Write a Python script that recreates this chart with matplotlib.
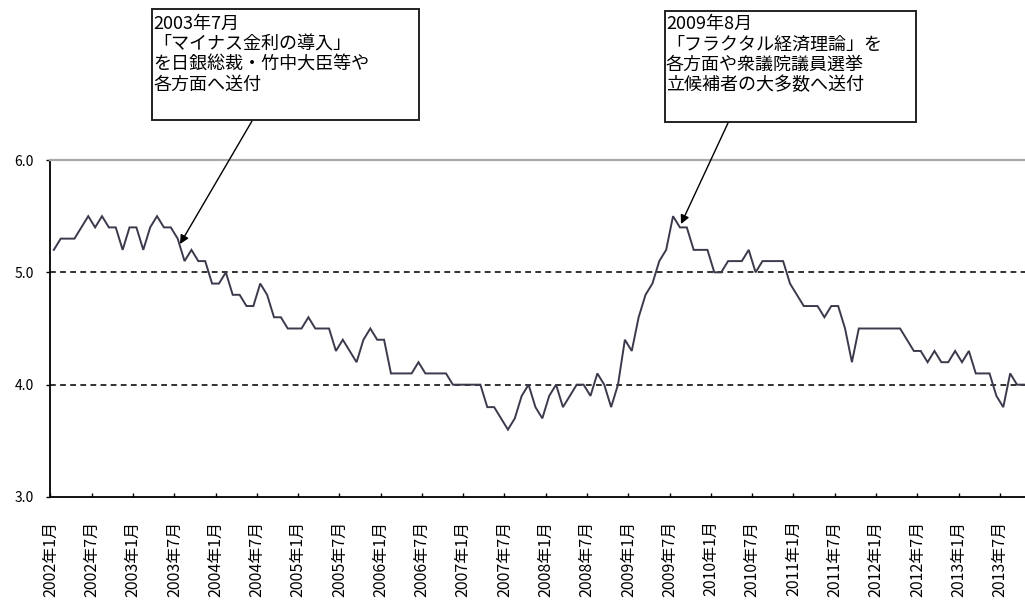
import matplotlib
matplotlib.use("Agg")
import matplotlib.pyplot as plt
from matplotlib.patches import Rectangle

plt.rcParams['font.family'] = ['Noto Sans CJK JP', 'DejaVu Sans']

# ---- data: monthly values, 2002年1月 .. 2013年10月 ----
rate = [
    5.2, 5.3, 5.3, 5.3, 5.4, 5.5, 5.4, 5.5, 5.4, 5.4, 5.2, 5.4,   # 2002
    5.4, 5.2, 5.4, 5.5, 5.4, 5.4, 5.3, 5.1, 5.2, 5.1, 5.1, 4.9,   # 2003
    4.9, 5.0, 4.8, 4.8, 4.7, 4.7, 4.9, 4.8, 4.6, 4.6, 4.5, 4.5,   # 2004
    4.5, 4.6, 4.5, 4.5, 4.5, 4.3, 4.4, 4.3, 4.2, 4.4, 4.5, 4.4,   # 2005
    4.4, 4.1, 4.1, 4.1, 4.1, 4.2, 4.1, 4.1, 4.1, 4.1, 4.0, 4.0,   # 2006
    4.0, 4.0, 4.0, 3.8, 3.8, 3.7, 3.6, 3.7, 3.9, 4.0, 3.8, 3.7,   # 2007
    3.9, 4.0, 3.8, 3.9, 4.0, 4.0, 3.9, 4.1, 4.0, 3.8, 4.0, 4.4,   # 2008
    4.3, 4.6, 4.8, 4.9, 5.1, 5.2, 5.5, 5.4, 5.4, 5.2, 5.2, 5.2,   # 2009
    5.0, 5.0, 5.1, 5.1, 5.1, 5.2, 5.0, 5.1, 5.1, 5.1, 5.1, 4.9,   # 2010
    4.8, 4.7, 4.7, 4.7, 4.6, 4.7, 4.7, 4.5, 4.2, 4.5, 4.5, 4.5,   # 2011
    4.5, 4.5, 4.5, 4.5, 4.4, 4.3, 4.3, 4.2, 4.3, 4.2, 4.2, 4.3,   # 2012
    4.2, 4.3, 4.1, 4.1, 4.1, 3.9, 3.8, 4.1, 4.0, 4.0,             # 2013
]
month_labels = [f"{2002 + i // 12}年{i % 12 + 1}月" for i in range(len(rate))]
tick_labels = month_labels[::6]
y_ticks = [3.0, 4.0, 5.0, 6.0]
y_tick_labels = ["3.0", "4.0", "5.0", "6.0"]
dashed_levels = [4.0, 5.0]

note1_lines = ["2003年7月", "「マイナス金利の導入」", "を日銀総裁・竹中大臣等や", "各方面へ送付"]
note2_lines = ["2009年8月", "「フラクタル経済理論」を", "各方面や衆議院議員選挙", "立候補者の大多数へ送付"]

# ---- figure ----
W, H = 1025, 608
fig = plt.figure(figsize=(W / 100, H / 100), dpi=100)
fig.patch.set_facecolor("white")

ax_left, ax_bottom, ax_top = 50.4, 497, 160
ax = fig.add_axes([ax_left / W, (H - ax_bottom) / H, 1 - ax_left / W, (ax_bottom - ax_top) / H])

x = [i + 0.5 for i in range(len(rate))]
ax.plot(x, rate, color="#3a3a4c", lw=1.4, solid_joinstyle="miter")

for lv in dashed_levels:
    ax.axhline(lv, color="#222222", lw=1.3, ls=(0, (3.2, 2.4)), zorder=1)

ax.set_ylim(3.0, 6.0)
ax.set_xlim(0, (W - ax_left) / 6.88)

ax.set_yticks(y_ticks)
ax.set_yticklabels(y_tick_labels, fontsize=10)
ax.set_xticks(list(range(0, len(rate), 6)))
ax.set_xticklabels(tick_labels, rotation=90, fontsize=11.5, va="top", ha="center")

ax.tick_params(axis="x", direction="in", length=3, width=1, pad=17, color="black")
ax.tick_params(axis="y", direction="out", length=3, width=1, pad=9, color="black")

ax.spines["left"].set_color("black")
ax.spines["left"].set_linewidth(1.3)
ax.spines["bottom"].set_color("black")
ax.spines["bottom"].set_linewidth(1.3)
ax.spines["top"].set_color("#a8a8a8")
ax.spines["top"].set_linewidth(1.6)
ax.spines["right"].set_visible(False)


def fx(px):
    return px / W


def fy(py):
    return 1 - py / H


# annotation boxes
boxes = [
    ((152, 9, 419, 120), 153, note1_lines),
    ((665, 11, 916, 122), 666, note2_lines),
]
for (x0, y0, x1, y1), tx, lines in boxes:
    fig.add_artist(Rectangle((fx(x0), fy(y1)), fx(x1) - fx(x0), fy(y0) - fy(y1),
                             transform=fig.transFigure, facecolor="white",
                             edgecolor="#222222", lw=1.4))
    fig.text(fx(tx), fy(15), "\n".join(lines), fontsize=13, ha="left", va="top",
             linespacing=1.17, color="black")

# arrows
arrows = [((252, 121), (180, 244)), ((728, 123), (681, 224))]
for (tx, ty), (hx, hy) in arrows:
    ax.annotate("", xy=(hx, H - hy), xycoords="figure pixels",
                xytext=(tx, H - ty), textcoords="figure pixels",
                arrowprops=dict(arrowstyle="-|>", color="black", lw=1.0,
                                mutation_scale=13, shrinkA=0, shrinkB=0))

fig.savefig("out.png", dpi=100, facecolor="white")
